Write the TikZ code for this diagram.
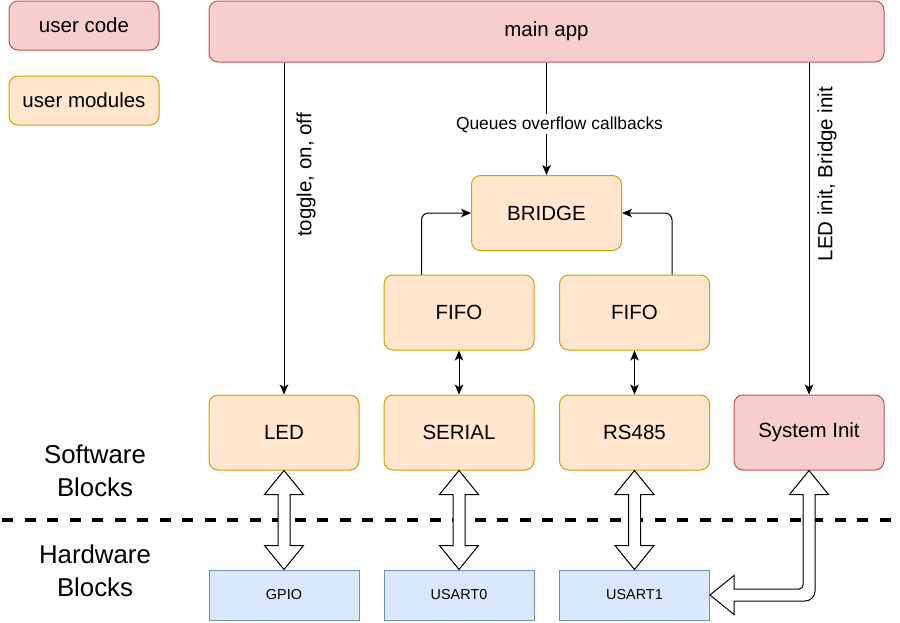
\documentclass[tikz,border=0pt]{standalone}
\usepackage{fontspec}
\setmainfont{Liberation Sans}
\usepackage{xcolor}
\usetikzlibrary{arrows.meta,calc}
\definecolor{usrfill}{HTML}{F8CECC}
\definecolor{usrline}{HTML}{B85450}
\definecolor{modfill}{HTML}{FFE6CC}
\definecolor{modline}{HTML}{D79B00}
\definecolor{hwfill}{HTML}{DAE8FC}
\definecolor{hwline}{HTML}{6C8EBF}
% hollow double arrow between two stacked blocks
\newcommand{\fatarrow}[2]{%
  \draw[fat] let \p1=(#1.south), \p2=(#2.north) in
    (\x1,\y1) -- (\x1+19.5pt,\y1-24pt) -- (\x1+6pt,\y1-24pt)
    -- (\x1+6pt,\y2+24pt) -- (\x1+19.5pt,\y2+24pt) -- (\x1,\y2)
    -- (\x1-19.5pt,\y2+24pt) -- (\x1-6pt,\y2+24pt)
    -- (\x1-6pt,\y1-24pt) -- (\x1-19.5pt,\y1-24pt) -- cycle;}

\begin{document}
\begin{tikzpicture}[x=1pt, y=-1pt,
  every node/.style={font=\fontsize{20.5}{24}\selectfont},
  usrbox/.style={draw=usrline, fill=usrfill, line width=1pt, rounded corners=9pt,
                 minimum width=150pt, minimum height=75pt, inner sep=0pt},
  modbox/.style={draw=modline, fill=modfill, line width=1pt, rounded corners=9pt,
                 minimum width=150pt, minimum height=75pt, inner sep=0pt},
  hwbox/.style ={draw=hwline, fill=hwfill, line width=1pt,
                 minimum width=150pt, minimum height=50pt, inner sep=0pt,
                 font=\fontsize{14.4}{17}\selectfont},
  lbl/.style={inner sep=1pt, font=\fontsize{20.5}{24}\selectfont},
  side/.style={align=center, font=\fontsize{25.8}{33}\selectfont},
  arr/.style={-{Stealth[length=10pt, width=8.5pt, inset=2.5pt]}, line width=1pt},
  darr/.style={{Stealth[length=10pt, width=8.5pt, inset=2.5pt]}-{Stealth[length=10pt, width=8.5pt, inset=2.5pt]}, line width=1pt},
  fat/.style={draw=black, fill=white, line width=1pt, line join=miter},
  sep/.style={line width=3.5pt, dash pattern=on 11pt off 11.5pt}
]
\useasboundingbox (0,0) rectangle (900,622);

% legend
\node[usrbox, minimum height=49pt] (legusr) at (84,25.5) {user code};
\node[modbox, minimum height=49pt] (legmod) at (84,100.5) {user modules};

\node[usrbox, minimum width=675pt, minimum height=61pt] (main) at (546.5,31.5) {main app};

\node[modbox] (bridge) at (546.5,213) {BRIDGE};
\node[modbox] (fifoA)  at (459,312.5) {FIFO};
\node[modbox] (fifoB)  at (634.5,312.5) {FIFO};

\node[modbox] (led)     at (284,432.5) {LED};
\node[modbox] (serial)  at (459,432.5) {SERIAL};
\node[modbox] (rs)      at (634.5,432.5) {RS485};
\node[usrbox] (sysinit) at (809,432.5) {System Init};

\node[hwbox] (gpio)   at (284,595) {GPIO};
\node[hwbox] (usart0) at (459,595) {USART0};
\node[hwbox] (usart1) at (634.5,595) {USART1};

\node[side] (sw) at (95,471) {Software\\Blocks};
\node[side] (hw) at (95,571) {Hardware\\Blocks};

\coordinate (divL) at (2,520);
\coordinate (divR) at (893,520);
\draw[sep] (divL) -- (divR);

% calls from the app
\draw[arr] (led.north |- main.south) -- (led.north);
\node[lbl, rotate=90] (ltog) at (306,175) {toggle, on, off};
\draw[arr] (main.south) -- node[pos=0.55, fill=white, inner sep=2pt, xshift=13pt,
  font=\fontsize{17.4}{20}\selectfont] (lq) {Queues overflow callbacks} (bridge.north);
\draw[arr] (sysinit.north |- main.south) -- (sysinit.north);
\node[lbl, rotate=90] (linit) at (827,174) {LED init, Bridge init};

% queues into the bridge
\draw[arr, rounded corners=7pt] ([xshift=-37.5pt]fifoA.north) |- (bridge.west);
\draw[arr, rounded corners=7pt] ([xshift=37.5pt]fifoB.north) |- (bridge.east);

\foreach \a/\b in {fifoA/serial, fifoB/rs}
  \draw[darr] (\a.south) -- (\b.north);

% software <-> hardware
\foreach \a/\b in {led/gpio, serial/usart0, rs/usart1}
  \fatarrow{\a}{\b};

\draw[fat] let \p1=(sysinit.south), \p2=(usart1.east) in
  (\x1,\y1) -- (\x1+19.5pt,\y1-24pt) -- (\x1+6pt,\y1-24pt)
  -- (\x1+6pt,\y2+4pt) arc[start angle=0, end angle=-90, radius=10pt]
  -- (\x2+24pt,\y2-6pt) -- (\x2+24pt,\y2-19.5pt) -- (\x2,\y2)
  -- (\x2+24pt,\y2+19.5pt) -- (\x2+24pt,\y2+6pt)
  -- (\x1-10pt,\y2+6pt) arc[start angle=-90, end angle=0, radius=4pt]
  -- (\x1-6pt,\y1-24pt) -- (\x1-19.5pt,\y1-24pt) -- cycle;
\end{tikzpicture}
\end{document}
